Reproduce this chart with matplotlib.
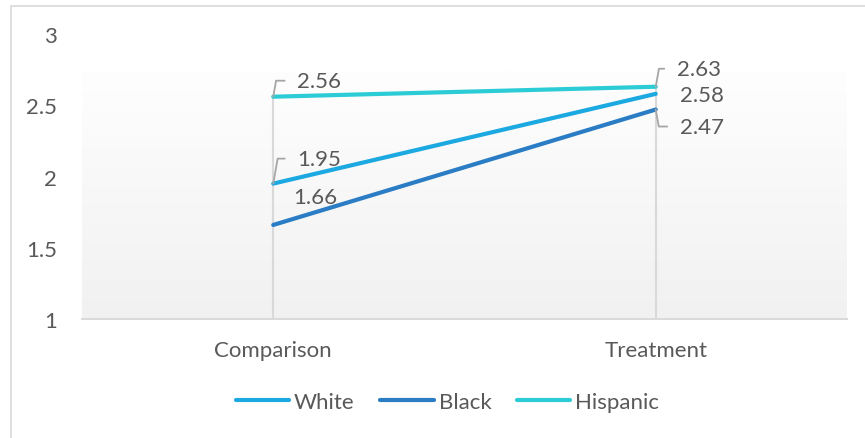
import numpy as np
import matplotlib
matplotlib.use("Agg")
import matplotlib.pyplot as plt
from matplotlib.patches import Rectangle

# data
categories = ["Comparison", "Treatment"]
white = [1.95, 2.58]
black = [1.66, 2.47]
hispanic = [2.56, 2.63]
series_names = ["White", "Black", "Hispanic"]
yticks = [1, 1.5, 2, 2.5, 3]
ytick_labels = ["1", "1.5", "2", "2.5", "3"]

colors = {"White": "#1CA9E1", "Black": "#2A7DC5", "Hispanic": "#2CCCD7"}
txt = "#595959"
grid = "#d9d9d9"

plt.rcParams['font.family'] = ['Lato', 'DejaVu Sans']
fs = 16

W, H = 865, 439
fig = plt.figure(figsize=(W / 100, H / 100), dpi=100)
fig.patches.append(Rectangle((11 / W, -0.1), 1.2, 1 - 7 / H + 0.1, transform=fig.transFigure,
                             fill=False, edgecolor=grid, lw=1.2))

ax = fig.add_axes([82 / W, 1 - 320 / H, (847 - 82) / W, (320 - 35) / H])
ax.set_xlim(-0.5, 1.5)
ax.set_ylim(1, 3)
ax.patch.set_alpha(0)

# gradient fill of the plot area
grad = np.linspace(0, 1, 100).reshape(-1, 1)
cmap = matplotlib.colors.LinearSegmentedColormap.from_list("g", ["#f1f1f1", "#fefefe"])
ax.imshow(grad, extent=[-0.5, 1.5, 1, 2.74], aspect='auto', cmap=cmap, origin='lower', zorder=0)

x = np.arange(len(categories))
tops = np.max([white, black, hispanic], axis=0)
ax.vlines(x, 1, tops, color=grid, lw=1.5, zorder=1)

data = {"White": white, "Black": black, "Hispanic": hispanic}
handles = []
for name in series_names:
    h, = ax.plot(x, data[name], color=colors[name], lw=3.0, solid_capstyle='round', zorder=3, label=name)
    handles.append(h)

# data labels: (series, index, offset px, leader)
labels = [
    ("Hispanic", 0, (24, 16), True),
    ("White", 0, (24, 25), True),
    ("Black", 0, (20, 28), False),
    ("Hispanic", 1, (21, 18), True),
    ("White", 1, (24, -1), False),
    ("Black", 1, (24, -17), True),
]
pt = 72 / 100
for name, i, (dx, dy), leader in labels:
    v = data[name][i]
    kw = {}
    if leader:
        ang = 80 if dy > 0 else -80
        kw = dict(arrowprops=dict(arrowstyle='-', color="#a6a6a6", lw=1.3, shrinkA=7, shrinkB=0,
                                  relpos=(0, 0.5),
                                  connectionstyle="angle,angleA=0,angleB=%d,rad=0" % ang))
    ax.annotate("%.2f" % v, (x[i], v), xytext=(dx * pt, dy * pt), textcoords='offset points',
                ha='left', va='center', fontsize=fs, color=txt, zorder=4, **kw)

for s in ["top", "right", "left"]:
    ax.spines[s].set_visible(False)
ax.spines["bottom"].set_color(grid)
ax.spines["bottom"].set_linewidth(1.4)
ax.set_xticks(x)
ax.set_xticklabels(categories)
ax.set_yticks(yticks)
ax.set_yticklabels(ytick_labels)
ax.tick_params(axis='both', length=0, labelsize=fs, labelcolor=txt)
ax.tick_params(axis='y', pad=18)
ax.tick_params(axis='x', pad=15)

fig.legend(handles=handles, loc='center', bbox_to_anchor=(447.5 / W, 1 - 403 / H), ncol=3,
           frameon=False, fontsize=fs, labelcolor=txt, handlelength=2.4, handletextpad=0.22,
           columnspacing=1.15)

fig.savefig("out.png", dpi=100)
